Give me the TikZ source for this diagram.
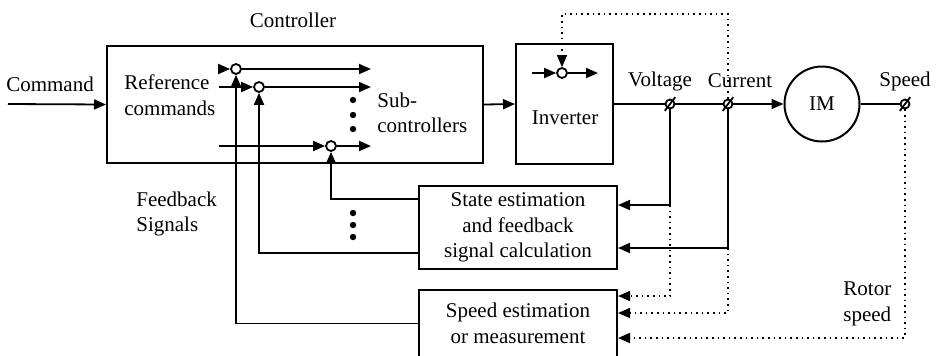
\documentclass[tikz,border=0pt]{standalone}
\usepackage{fontspec}
\setmainfont{Liberation Serif}
\usetikzlibrary{shapes.geometric, arrows.meta}

\begin{document}
\begin{tikzpicture}
    [
        x=0.5pt, y=-0.5pt,
        font=\fontsize{10.5}{12.8}\selectfont,
        block/.style = {draw, shape=rectangle, line width=1pt, align=center, inner sep=0pt},
        sum/.style = {draw, shape=circle, line width=0.9pt, minimum size=5pt, inner sep=0pt, fill=white},
        term/.style = {draw, shape=circle, line width=0.9pt, minimum size=4.5pt, inner sep=0pt, fill=white},
        sig/.style = {line width=0.9pt, -{Triangle[length=6pt,width=5pt]}},
        wire/.style = {line width=0.9pt},
        meas/.style = {line width=0.8pt, dotted, -{Triangle[length=6pt,width=5pt]}},
        txt/.style = {align=left, inner sep=0pt},
    ]
    \useasboundingbox (0,0) rectangle (936,355);

    % blocks
    \node[block, minimum width=188pt, minimum height=58.5pt] (ctrl) at (295,104.5) {};
    \node[block, minimum width=48.5pt, minimum height=60pt] (inv) at (564.5,104) {};
    \node[block, minimum width=99pt, minimum height=41.5pt] (state) at (518,227.5) {State estimation\\and feedback\\signal calculation};
    \node[block, minimum width=99pt, minimum height=33.5pt] (speed) at (518,323.5) {Speed estimation\\or measurement};
    \node[draw, shape=circle, line width=1pt, minimum size=37.5pt, inner sep=0pt] (im) at (822,104) {IM};

    % summing points
    \node[sum] (s1) at (236,69) {};
    \node[sum] (s2) at (259,87) {};
    \node[sum] (s3) at (331,146) {};
    \node[sum] (s0) at (562,73) {};

    % measuring terminals
    \node[term] (jv) at (670,104) {};
    \node[term] (ji) at (728,104) {};
    \node[term] (js) at (905,104) {};
    \foreach \j in {jv,ji,js}
        \draw[wire] ([shift={(-2.6pt,-3.4pt)}]\j.center) -- ([shift={(2.6pt,3.4pt)}]\j.center);

    % texts
    \node (title) at (293,20) {Controller};
    \node (cmdtext) at (50,84) {Command};
    \node[txt, anchor=west] (reftext) at (124,95) {Reference\\commands};
    \node[txt, anchor=west] (subtext) at (377,113) {Sub-\\controllers};
    \node (invtext) at (565,118) {Inverter};
    \node[txt, anchor=west] (fbtext) at (136,214) {Feedback\\Signals};
    \node[txt, anchor=west] (rotortext) at (843,304) {Rotor\\speed};
    \node (vlabel) at (660,81) {Voltage};
    \node (ilabel) at (740,81) {Current};
    \node (wlabel) at (905,81) {Speed};

    % free ends and corners
    \coordinate (cmd) at (8,104);
    \coordinate (in1) at (219,69);
    \coordinate (in2) at (219,87);
    \coordinate (in3) at (219,146);
    \coordinate (out1) at (371,69);
    \coordinate (out2) at (371,87);
    \coordinate (out3) at (371,146);
    \coordinate (in0) at (532,73);
    \coordinate (out0) at (598,73);
    \coordinate (top) at (650,14);
    \coordinate (vk) at (670,205);
    \coordinate (ik) at (728,248);

    % forward path
    \draw[sig] (cmd) -- (ctrl.west);
    \foreach \k in {1,2,3} {
        \draw[sig] (in\k) -- (s\k);
        \draw[sig] (s\k) -- (out\k);
    }
    \draw[sig] (in0) -- (s0);
    \draw[sig] (s0) -- (out0);
    \draw[sig] (ctrl.east) -- (inv.west);
    \draw[wire] (inv.east) -- (jv);
    \draw[wire] (jv) -- (ji);
    \draw[sig] (ji) -- (im);
    \draw[wire] (im) -- (js);
    \foreach \y in {100,115,129}
        \fill (353,\y) circle (1.6pt);

    % measurements
    \draw[meas] (ji) |- (top) -| (s0);
    \draw[sig] (jv) -- (vk) -- (vk -| state.east);
    \draw[sig] (ji) -- (ik) -- (ik -| state.east);
    \draw[meas] (vk) |- ([yshift=13.75pt]speed.east);
    \draw[meas] (ik) |- ([yshift=5.25pt]speed.east);
    \draw[meas] (js) |- ([yshift=-7.25pt]speed.east);

    % feedback signals
    \draw[sig] ([yshift=14.25pt]state.west) -| (s3);
    \draw[sig] ([yshift=-12.75pt]state.west) -| (s2);
    \draw[sig] (speed.west) -| (s1);
    \foreach \y in {213,225,237}
        \fill (353,\y) circle (1.6pt);
\end{tikzpicture}
\end{document}
